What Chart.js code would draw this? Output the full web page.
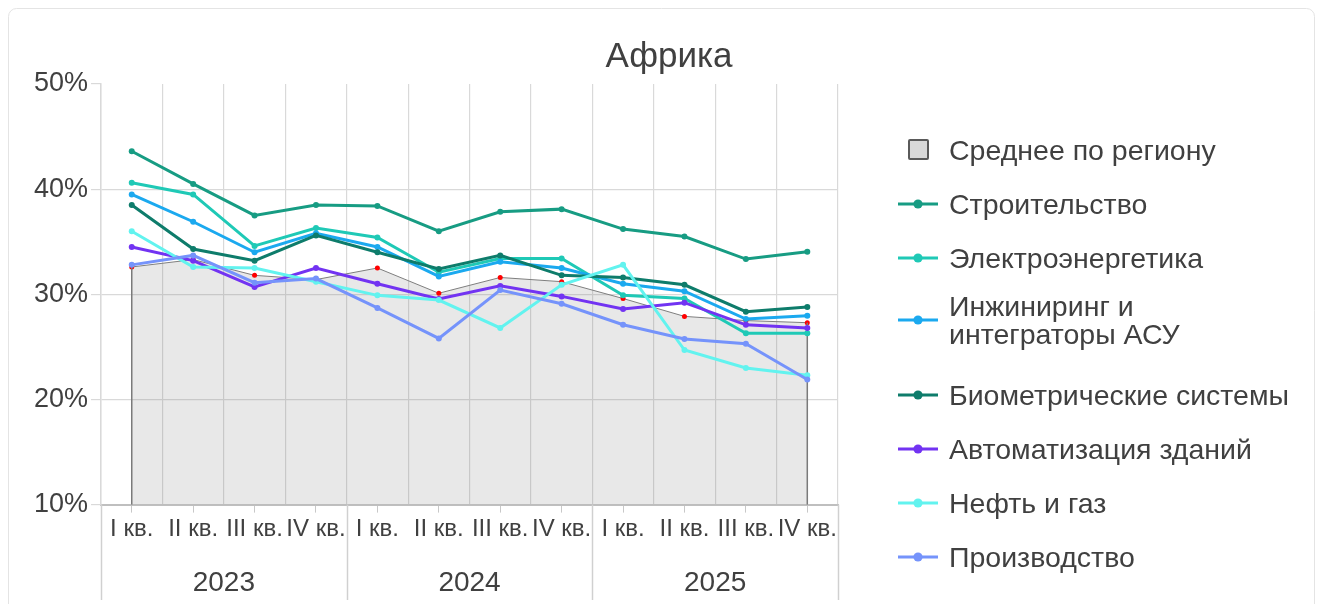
<!DOCTYPE html>
<html>
<head>
<meta charset="utf-8">
<script src="https://cdn.jsdelivr.net/npm/chart.js@4.4.1/dist/chart.umd.min.js"></script>
<style>
html,body{margin:0;padding:0;background:#fff;}
#wrap{position:relative;width:1323px;height:604px;overflow:hidden;}
#c{position:absolute;left:0;top:0;}
#legend{position:absolute;left:897px;top:136px;font-family:"Liberation Sans",Arial,sans-serif;font-size:28.5px;color:#404040;}
.item{display:flex;align-items:center;height:27px;margin-bottom:27px;line-height:28px;white-space:pre-line;}
.item.two{height:56px;margin-top:-6px;margin-bottom:33px;}
.mk{width:42px;height:27px;flex:none;margin-right:10px;display:flex;align-items:center;justify-content:center;}
.sq{width:17px;height:17px;background:#d9d9d9;border:2.5px solid #5a5a5a;border-radius:2px;}
</style>
</head>
<body>
<div id="wrap">
<canvas id="c" width="1323" height="604"></canvas>
<div id="legend"></div>
</div>
<script>
// ---- data ----
const quarters = ['I кв.','II кв.','III кв.','IV кв.','I кв.','II кв.','III кв.','IV кв.','I кв.','II кв.','III кв.','IV кв.'];
const years = ['2023','2024','2025'];
const yTicks = [10, 20, 30, 40, 50];

const avgLabel = 'Среднее по региону';
const avgRegion = [32.6, 33.3, 31.8, 31.4, 32.5, 30.1, 31.6, 31.2, 29.6, 27.9, 27.5, 27.3];

const seriesNames = ['Строительство','Электроэнергетика','Инжиниринг и\nинтеграторы АСУ','Биометрические системы','Автоматизация зданий','Нефть и газ','Производство'];
const construction = [43.6, 40.5, 37.5, 38.5, 38.4, 36.0, 37.85, 38.1, 36.2, 35.5, 33.35, 34.05];
const energy       = [40.6, 39.5, 34.6, 36.3, 35.4, 32.1, 33.4, 33.4, 29.9, 29.6, 26.3, 26.3];
const engineering  = [39.5, 36.9, 34.0, 35.8, 34.5, 31.7, 33.1, 32.5, 31.0, 30.3, 27.65, 27.95];
const biometric    = [38.5, 34.3, 33.2, 35.6, 34.0, 32.4, 33.7, 31.8, 31.6, 30.9, 28.35, 28.8];
const buildingAuto = [34.5, 33.2, 30.7, 32.5, 31.0, 29.55, 30.8, 29.8, 28.6, 29.2, 27.1, 26.8];
const oilGas       = [36.0, 32.6, 32.5, 31.2, 29.9, 29.45, 26.8, 30.9, 32.8, 24.7, 23.0, 22.3];
const manufacturing= [32.8, 33.7, 31.1, 31.5, 28.7, 25.8, 30.4, 29.1, 27.1, 25.75, 25.3, 21.9];

const seriesValues = [construction, energy, engineering, biometric, buildingAuto, oilGas, manufacturing];
const seriesColors = ['#179c83','#1fc9b6','#1ba9ef','#0e7c6b','#7233f2','#62f3ef','#7593fb'];

// ---- styling ----
const FONT = '"Liberation Sans", Arial, sans-serif';
const TXT = '#404040';
const GRID = '#d9d9d9';

const datasets = [{
  label: avgLabel,
  data: avgRegion,
  borderColor: '#7f7f7f',
  borderWidth: 1,
  backgroundColor: 'rgba(120,120,120,0.17)',
  fill: 'start',
  pointRadius: 2.5,
  pointBackgroundColor: '#ff0000',
  pointBorderWidth: 0,
  order: 100,
  tension: 0
}];
seriesValues.forEach((vals, i) => {
  datasets.push({
    label: seriesNames[i],
    data: vals,
    borderColor: seriesColors[i],
    backgroundColor: seriesColors[i],
    borderWidth: 3,
    pointRadius: 3,
    pointBackgroundColor: seriesColors[i],
    pointBorderWidth: 0,
    fill: false,
    tension: 0,
    order: 50 - i
  });
});

const decor = {
  id: 'decor',
  beforeDraw(chart) {
    const ctx = chart.ctx;
    ctx.save();
    ctx.fillStyle = '#fff';
    ctx.fillRect(0, 0, chart.width, chart.height);
    ctx.strokeStyle = '#e4e4e4';
    ctx.lineWidth = 1;
    ctx.beginPath();
    ctx.roundRect(8.5, 8.5, chart.width - 17, chart.height + 40, 8);
    ctx.stroke();
    ctx.restore();
  },
  afterDatasetDraw(chart, args) {
    if (args.index !== 0) return;
    const pts = args.meta.data;
    if (!pts.length) return;
    const ctx = chart.ctx;
    const yb = chart.scales.y.getPixelForValue(chart.scales.y.min);
    ctx.save();
    ctx.strokeStyle = '#7a7a7a';
    ctx.lineWidth = 1.5;
    [pts[0], pts[pts.length - 1]].forEach(p => {
      ctx.beginPath();
      ctx.moveTo(p.x, p.y);
      ctx.lineTo(p.x, yb);
      ctx.stroke();
    });
    ctx.restore();
  },
  afterDraw(chart) {
    const x2 = chart.scales.x2;
    const ctx = chart.ctx;
    ctx.save();
    ctx.strokeStyle = '#d0d0d0';
    ctx.lineWidth = 1.5;
    for (let k = 0; k <= years.length; k++) {
      const px = Math.round(x2.getPixelForDecimal(k / years.length)) + 0.5;
      ctx.beginPath();
      ctx.moveTo(px, chart.chartArea.bottom);
      ctx.lineTo(px, x2.bottom);
      ctx.stroke();
    }
    ctx.restore();
  }
};

new Chart(document.getElementById('c'), {
  type: 'line',
  data: { labels: quarters, datasets },
  options: {
    responsive: false,
    animation: false,
    devicePixelRatio: 1,
    layout: { padding: { top: 12, left: 31, right: 16, bottom: 4 } },
    plugins: {
      legend: { display: false },
      tooltip: { enabled: false },
      title: {
        display: true,
        text: 'Африка',
        color: TXT,
        font: { family: FONT, size: 35, weight: 'normal' },
        padding: { top: 24, bottom: 6 }
      }
    },
    scales: {
      x: {
        type: 'category',
        position: 'bottom',
        offset: true,
        weight: 0,
        grid: { offset: false, drawOnChartArea: false, tickLength: 8, color: GRID, tickColor: '#c8c8c8' },
        border: { color: '#bfbfbf', width: 2 },
        ticks: { autoSkip: false, maxRotation: 0, minRotation: 0, padding: 2, color: TXT, font: { family: FONT, size: 24 } }
      },
      x2: {
        type: 'category',
        labels: years,
        position: 'bottom',
        offset: true,
        weight: 1,
        grid: { display: true, drawOnChartArea: false, drawTicks: true, tickLength: 21, tickColor: 'rgba(0,0,0,0)', color: 'rgba(0,0,0,0)' },
        border: { display: false },
        ticks: { autoSkip: false, maxRotation: 0, minRotation: 0, padding: 0, color: TXT, font: { family: FONT, size: 28 } }
      },
      xg: {
        type: 'category',
        labels: quarters,
        position: 'top',
        offset: true,
        grid: { offset: true, drawTicks: false, color: GRID, lineWidth: 1.2 },
        border: { display: false },
        ticks: { display: false }
      },
      y: {
        type: 'linear',
        min: yTicks[0],
        max: yTicks[yTicks.length - 1],
        afterBuildTicks(scale) { scale.ticks = yTicks.map(v => ({ value: v })); },
        grid: {
          tickLength: 10,
          color: ctx => (ctx.tick && ctx.tick.value === yTicks[yTicks.length - 1]) ? 'rgba(0,0,0,0)' : GRID,
          tickColor: GRID,
          lineWidth: 1.2
        },
        border: { color: GRID, width: 1.5 },
        ticks: { padding: 3, color: TXT, font: { family: FONT, size: 27 }, callback: v => v + '%' }
      },
      y2: {
        type: 'linear',
        position: 'right',
        display: true,
        grid: { display: false, drawTicks: false },
        border: { display: false },
        ticks: { display: false },
        afterFit(scale) { scale.width = 469; }
      }
    }
  },
  plugins: [decor]
});

// ---- HTML legend built from the same arrays ----
const legend = document.getElementById('legend');
function addItem(label, markerHtml) {
  const it = document.createElement('div');
  it.className = 'item' + (label.indexOf('\n') >= 0 ? ' two' : '');
  const mk = document.createElement('div');
  mk.className = 'mk';
  mk.innerHTML = markerHtml;
  const tx = document.createElement('div');
  tx.textContent = label;
  it.appendChild(mk);
  it.appendChild(tx);
  legend.appendChild(it);
}
addItem(avgLabel, '<div class="sq"></div>');
seriesNames.forEach((n, i) => {
  const c = seriesColors[i];
  addItem(n, '<svg width="42" height="12"><line x1="1" y1="6" x2="41" y2="6" stroke="' + c + '" stroke-width="3"/><circle cx="21" cy="6" r="4.6" fill="' + c + '"/></svg>');
});
</script>
</body>
</html>
